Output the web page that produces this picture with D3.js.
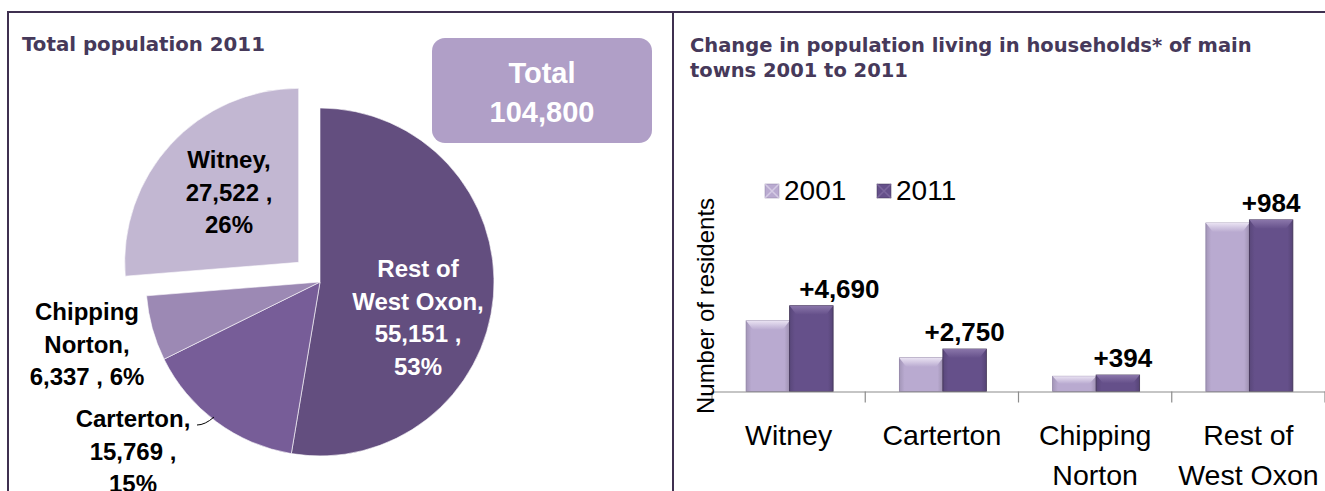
<!DOCTYPE html>
<html>
<head>
<meta charset="utf-8">
<script src="https://cdn.jsdelivr.net/npm/d3@7"></script>
<style>
  body { margin: 0; background: #fff; }
  svg { display: block; }
  .ttl { font-family: "DejaVu Sans", "Open Sans", sans-serif; font-weight: 700; fill: #46395a; }
  .cal { font-family: "Liberation Sans Narrow", "Liberation Sans", sans-serif; }
</style>
</head>
<body>
<svg id="chart"></svg>
<script>
// ---- pie data (clockwise from 12 o'clock)
const pieNames = ["Rest of West Oxon", "Carterton", "Chipping Norton", "Witney"];
const pieValues = [55151, 15769, 6337, 27522];
const piePct = ["53%", "15%", "6%", "26%"];
const totalPop = "104,800";

// ---- bar data
const towns = ["Witney", "Carterton", "Chipping Norton", "Rest of West Oxon"];
const townLines = [["Witney"], ["Carterton"], ["Chipping", "Norton"], ["Rest of", "West Oxon"]];
const years = ["2001", "2011"];
const pop2001 = [21900, 10420, 4720, 52220];
const pop2011 = [26590, 13170, 5114, 53204];
const changeLabels = ["+4,690", "+2,750", "+394", "+984"];

var width = 1325, height = 491;
var svg = d3.select("#chart").attr("width", width).attr("height", height);

var defs = svg.append("defs");

// frame
var frameColor = "#3f3050";
svg.append("line").attr("x1", 7).attr("x2", width).attr("y1", 12).attr("y2", 12)
  .attr("stroke", frameColor).attr("stroke-width", 2);
svg.append("line").attr("x1", 8).attr("x2", 8).attr("y1", 12).attr("y2", height)
  .attr("stroke", frameColor).attr("stroke-width", 2);
svg.append("line").attr("x1", 673).attr("x2", 673).attr("y1", 12).attr("y2", height)
  .attr("stroke", frameColor).attr("stroke-width", 2);

// ================= LEFT: pie =================
svg.append("text").attr("class", "ttl").attr("x", 22).attr("y", 51)
  .style("font-size", "19.8px").text("Total population 2011");

// total box
svg.append("rect").attr("x", 432).attr("y", 38).attr("width", 220).attr("height", 105)
  .attr("rx", 13).attr("fill", "#b09fc7");
svg.append("text").attr("class", "cal").attr("x", 542).attr("y", 83)
  .attr("text-anchor", "middle").attr("fill", "#fff").style("font-weight", 700)
  .style("font-size", "29px").text("Total");
svg.append("text").attr("class", "cal").attr("x", 542).attr("y", 122)
  .attr("text-anchor", "middle").attr("fill", "#fff").style("font-weight", 700)
  .style("font-size", "29px").text(totalPop);

var pieColors = ["#634e7f", "#775d98", "#9c89b4", "#c2b7d2"];
var cx = 320, cy = 282, R = 174, explode = 29;

var pie = d3.pie().sort(null).value(d => d)(pieValues);
var arc = d3.arc().innerRadius(0).outerRadius(R);

var pg = svg.append("g").attr("transform", `translate(${cx},${cy})`);
pg.selectAll("path").data(pie).enter().append("path")
  .attr("d", arc)
  .attr("fill", (d, i) => pieColors[i])
  .attr("stroke", "#ffffff").attr("stroke-width", 0.6)
  .attr("transform", function(d, i) {
    if (pieNames[i] !== "Witney") return null;
    var m = (d.startAngle + d.endAngle) / 2;
    return `translate(${Math.sin(m) * explode},${-Math.cos(m) * explode})`;
  });

// pie labels
var fmt = d3.format(",");
var pieLabel = [
  {lines: ["Rest of", "West Oxon,", fmt(pieValues[0]) + " ,", piePct[0]], x: 418, y: 277, fill: "#fff"},
  {lines: ["Carterton,", fmt(pieValues[1]) + " ,", piePct[1]], x: 133, y: 427, fill: "#000"},
  {lines: ["Chipping", "Norton,", fmt(pieValues[2]) + " , " + piePct[2]], x: 87, y: 320, fill: "#000"},
  {lines: ["Witney,", fmt(pieValues[3]) + " ,", piePct[3]], x: 229, y: 168, fill: "#000"}
];
pieLabel.forEach(function(l) {
  var t = svg.append("text").attr("class", "cal").attr("text-anchor", "middle")
    .attr("fill", l.fill).style("font-weight", 700).style("font-size", "24px");
  l.lines.forEach(function(s, k) {
    t.append("tspan").attr("x", l.x).attr("y", l.y + k * 32.5).text(s);
  });
});
// leader for Carterton
svg.append("path").attr("d", "M197,425 Q205,425 214,417")
  .attr("fill", "none").attr("stroke", "#000").attr("stroke-width", 1);

// ================= RIGHT: bars =================
var rt = svg.append("text").attr("class", "ttl").style("font-size", "19.5px");
rt.append("tspan").attr("x", 690).attr("y", 52).text("Change in population living in households* of main");
rt.append("tspan").attr("x", 690).attr("y", 77).text("towns 2001 to 2011");

var base = 391.5;
var x0 = d3.scaleBand().domain(towns).range([712, 1325]).paddingInner(0).paddingOuter(0);
var x1 = d3.scaleBand().domain(years).range([0, 87]);
var y = d3.scaleLinear().domain([0, 60000]).range([base, base - 60000 / 310]);

var barFill = {"2001": "#b9aad0", "2011": "#65508a"};
var barTop = {"2001": "#e9e2f2", "2011": "#8a76aa"};
var barEdge = {"2001": "#8d7fa3", "2011": "#3e3052"};
// horizontal nudge of the change labels, as placed in the original
var labelShift = [28, 0, 5, 0];

years.forEach(function(yr) {
  var g = defs.append("linearGradient").attr("id", "g" + yr).attr("x1", 0).attr("x2", 1);
  g.append("stop").attr("offset", 0).attr("stop-color", d3.color(barFill[yr]).darker(0.35));
  g.append("stop").attr("offset", 0.12).attr("stop-color", barFill[yr]);
  g.append("stop").attr("offset", 0.88).attr("stop-color", barFill[yr]);
  g.append("stop").attr("offset", 1).attr("stop-color", d3.color(barFill[yr]).darker(0.45));
  var t = defs.append("linearGradient").attr("id", "t" + yr).attr("x1", 0).attr("x2", 0).attr("y1", 0).attr("y2", 1);
  t.append("stop").attr("offset", 0).attr("stop-color", barTop[yr]);
  t.append("stop").attr("offset", 1).attr("stop-color", barFill[yr]);
});

var rows = towns.map((t, i) => ({town: t, vals: [pop2001[i], pop2011[i]], label: changeLabels[i], dx: labelShift[i]}));

var groups = svg.append("g").selectAll("g").data(rows).enter().append("g")
  .attr("transform", d => `translate(${x0(d.town) + (x0.bandwidth() - 87) / 2 + 1},0)`);

function bevelBar(sel, px, w, top, yr) {
  var h = base - top;
  sel.append("rect").attr("x", px).attr("y", top).attr("width", w).attr("height", h)
    .attr("fill", `url(#g${yr})`).attr("stroke", barEdge[yr]).attr("stroke-width", 0.8);
  var b = Math.min(9, h / 2), s = 7;
  sel.append("path")
    .attr("d", `M${px},${top} L${px + w},${top} L${px + w - s},${top + b} L${px + s},${top + b} Z`)
    .attr("fill", `url(#t${yr})`);
}

groups.each(function(d) {
  var g = d3.select(this);
  years.forEach(function(yr, k) {
    bevelBar(g, x1(yr), x1.bandwidth(), y(d.vals[k]), yr);
  });
  g.append("text").attr("class", "cal").attr("x", x1("2011") + x1.bandwidth() / 2 + d.dx)
    .attr("y", y(d.vals[1]) - 8).attr("text-anchor", "middle")
    .style("font-weight", 700).style("font-size", "26px").text(d.label);
});

// axis
var ax = svg.append("g").attr("transform", `translate(0,${base})`)
  .call(d3.axisBottom(x0).tickSize(0).tickFormat(""));
ax.select(".domain").attr("stroke", "#8c8c8c").attr("stroke-width", 1.2);
ax.selectAll(".tick").remove();
var tickXs = towns.map(t => x0(t)).concat([x0.range()[1]]);
svg.append("g").selectAll("line").data(tickXs).enter().append("line")
  .attr("x1", d => d).attr("x2", d => d).attr("y1", base).attr("y2", base + 11)
  .attr("stroke", "#8c8c8c").attr("stroke-width", 1.2);

// category labels
townLines.forEach(function(lines, i) {
  var t = svg.append("text").attr("class", "cal").attr("text-anchor", "middle")
    .style("font-size", "28.5px").attr("fill", "#000");
  lines.forEach(function(s, k) {
    t.append("tspan").attr("x", x0(towns[i]) + x0.bandwidth() / 2).attr("y", 445 + k * 40).text(s);
  });
});

// y label
svg.append("text").attr("class", "cal").attr("transform", "translate(714,306) rotate(-90)")
  .attr("text-anchor", "middle").style("font-size", "24px").text("Number of residents");

// legend
var leg = svg.append("g");
var legX = [765, 877];
years.forEach(function(yr, i) {
  var lg = leg.append("g").attr("transform", `translate(${legX[i]},184)`);
  lg.append("rect").attr("width", 14).attr("height", 14).attr("fill", barFill[yr])
    .attr("stroke", barEdge[yr]).attr("stroke-width", 0.5);
  lg.append("path").attr("d", "M0,0 L14,14 M14,0 L0,14").attr("stroke", barTop[yr])
    .attr("stroke-width", 1.5).attr("opacity", 0.6);
  lg.append("text").attr("class", "cal").attr("x", 19).attr("y", 15.5)
    .style("font-size", "28px").text(yr);
});
</script>
</body>
</html>
